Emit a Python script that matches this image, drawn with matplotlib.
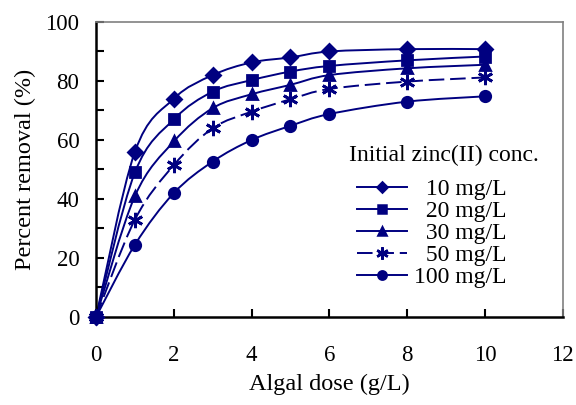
"""Zinc(II) removal versus algal dose, for several initial concentrations."""

import matplotlib.pyplot as plt
import numpy as np
from matplotlib.lines import Line2D
from matplotlib.patches import PathPatch
from matplotlib.path import Path
from matplotlib.ticker import MultipleLocator

plt.rcParams["font.family"] = ["Liberation Serif", "DejaVu Serif"]

dose = [0, 1, 2, 3, 4, 5, 6, 8, 10]
removal_10 = [0, 56, 74, 82, 86.3, 88, 90, 90.8, 90.8]
removal_20 = [0, 49, 67, 76.4, 80.3, 83.2, 85.1, 87, 88.3]
removal_30 = [0, 41, 59.5, 70.8, 75.5, 78.7, 82, 84.3, 85.5]
removal_50 = [0, 33, 51.5, 64, 69.6, 73.8, 77.3, 79.8, 81.2]
removal_100 = [0, 24.5, 42, 52.7, 60, 64.8, 68.8, 73, 74.8]

# figure space keeps the legend labels right-aligned like the original
series = [
    ("\u200710 mg/L", removal_10, "D", "-"),
    ("\u200720 mg/L", removal_20, "s", "-"),
    ("\u200730 mg/L", removal_30, "^", "-"),
    ("\u200750 mg/L", removal_50, (6, 2, 0), (0, (8, 3))),
    ("100 mg/L", removal_100, "o", "-"),
]
marker_size = {"D": 7, "s": 7, "^": 7.5, "o": 7.5}
navy = "#000080"


def smooth_path(xs, ys):
    """Excel-style smoothed line: cubic Bezier segments through the points."""
    pts = np.column_stack([xs, ys]).astype(float)
    verts = [pts[0]]
    codes = [Path.MOVETO]
    n = len(pts)
    for i in range(n - 1):
        p0 = pts[i - 1] if i > 0 else pts[i]
        p1, p2 = pts[i], pts[i + 1]
        p3 = pts[i + 2] if i + 2 < n else pts[i + 1]
        c1 = p1 + (p2 - p0) / 6
        c2 = p2 - (p3 - p1) / 6
        verts += [c1, c2, p2]
        codes += [Path.CURVE4] * 3
    return Path(verts, codes)


fig = plt.figure(figsize=(5.76, 4.05), dpi=100)
ax = fig.add_axes([0.1667, 0.2173, 0.8103, 0.7284])

handles = []
for label, values, marker, ls in series:
    ax.add_patch(PathPatch(smooth_path(dose, values), facecolor="none",
                           edgecolor=navy, lw=1.4, ls=ls, zorder=2))
    ms = marker_size.get(marker, 11)
    ax.plot(dose, values, ls="none", marker=marker, ms=ms, color=navy,
            mew=2, clip_on=False, zorder=3)
    handles.append(Line2D([], [], color=navy, lw=1.4, ls=ls, marker=marker,
                          ms=ms * 0.8, mew=1.8, label=label))

ax.set_xlim(0, 12)
ax.set_ylim(0, 100)
ax.xaxis.set_major_locator(MultipleLocator(2))
ax.yaxis.set_major_locator(MultipleLocator(20))
ax.yaxis.set_minor_locator(MultipleLocator(10))
ax.tick_params(axis="both", which="both", direction="in", labelsize=16.5,
               width=1.5, color="black")
ax.tick_params(axis="both", which="major", length=6)
ax.tick_params(axis="y", which="major", pad=12)
ax.tick_params(axis="x", which="major", pad=20)
ax.tick_params(axis="y", which="minor", length=6)

for side in ("left", "bottom"):
    ax.spines[side].set_linewidth(1.8)
    ax.spines[side].set_color("black")
for side in ("top", "right"):
    ax.spines[side].set_linewidth(1.2)
    ax.spines[side].set_color("#808080")

ax.set_xlabel("Algal dose (g/L)", fontsize=17.5, labelpad=6)
ax.set_ylabel("Percent removal (%)", fontsize=17.5, labelpad=7)

ax.text(0.745, 0.549, "Initial zinc(II) conc.", transform=ax.transAxes,
        ha="center", va="center", fontsize=17)
ax.legend(handles=handles, loc="upper left", bbox_to_anchor=(0.559, 0.47),
          frameon=False, fontsize=17, handlelength=2.1, labelspacing=0.02,
          handletextpad=0.3, borderpad=0, borderaxespad=0)

fig.savefig("out.png", dpi=100)
